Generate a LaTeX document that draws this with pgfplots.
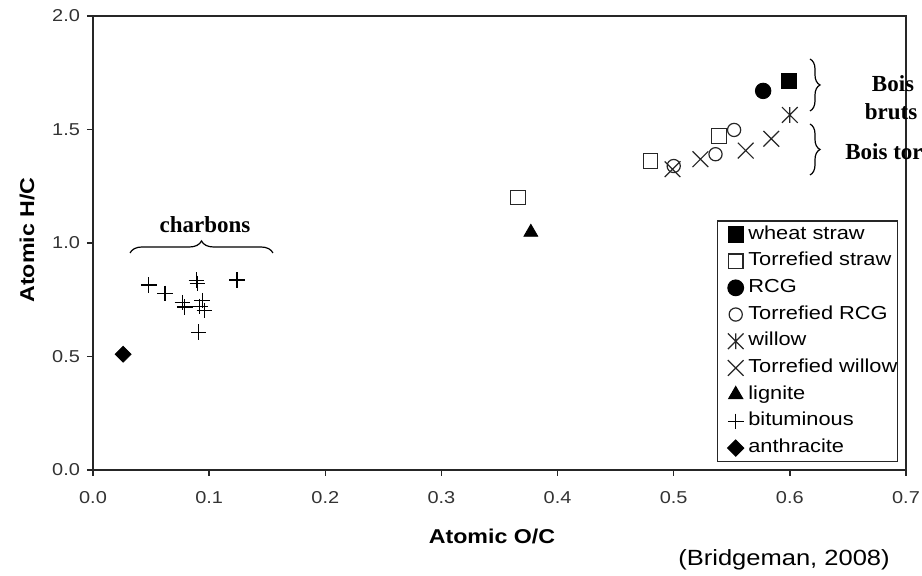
\documentclass[border=0pt]{standalone}
\usepackage{pgfplots}
\pgfplotsset{compat=1.18}
\usepackage{fontspec}
\setmainfont[FakeStretch=1.16]{Liberation Sans}
\newfontfamily\annfont{Liberation Serif}
\usetikzlibrary{decorations.pathreplacing}

\pgfdeclareplotmark{xast}{%
  \pgfpathmoveto{\pgfqpoint{-.7071\pgfplotmarksize}{-.7071\pgfplotmarksize}}%
  \pgfpathlineto{\pgfqpoint{.7071\pgfplotmarksize}{.7071\pgfplotmarksize}}%
  \pgfpathmoveto{\pgfqpoint{-.7071\pgfplotmarksize}{.7071\pgfplotmarksize}}%
  \pgfpathlineto{\pgfqpoint{.7071\pgfplotmarksize}{-.7071\pgfplotmarksize}}%
  \pgfpathmoveto{\pgfqpoint{0pt}{-.7071\pgfplotmarksize}}%
  \pgfpathlineto{\pgfqpoint{0pt}{.7071\pgfplotmarksize}}%
  \pgfusepathqstroke}

\begin{document}
\begin{tikzpicture}
\begin{axis}[
  at={(46.5pt,53pt)}, anchor=south west,
  scale only axis, width=406.5pt, height=227pt,
  xmin=0, xmax=0.7, ymin=0, ymax=2,
  xtick={0,0.1,0.2,0.3,0.4,0.5,0.6,0.7},
  ytick={0,0.5,1,1.5,2},
  tick pos=left, tick align=outside, major tick length=3pt,
  axis line style={line width=0.8pt, black!85},
  every tick/.style={black!85, line width=0.7pt},
  /pgf/number format/.cd, fixed, fixed zerofill, precision=1, assume math mode=true,
  /pgfplots/.cd,
  ticklabel style={font=\fontsize{8.6}{10}\selectfont, text=black!80},
  xticklabel style={yshift=-4pt},
  clip=false,
  legend cell align=left,
  legend image code/.code={\path (0pt,0pt) (15pt,0pt); \draw[mark repeat=2,mark phase=2,#1] plot coordinates {(0pt,0pt)(9pt,0pt)(15pt,0pt)};},
  legend style={at={(rel axis cs:1,0)}, anchor=south east, xshift=-4pt, yshift=4pt,
    draw=black!85, line width=0.6pt, inner xsep=0pt, inner ysep=0pt,
    font=\fontsize{9.4}{11}\selectfont, row sep=0pt, column sep=0pt,
    nodes={inner sep=0pt, text height=9pt, text depth=4.35pt}},
]
\addplot[only marks, mark=square*, mark size=3.75pt, black] coordinates {(0.599,1.715)};
\addlegendentry{wheat straw}
\addplot[only marks, mark=square, mark size=3.6pt, black!85, mark options={line width=0.6pt}] coordinates {(0.366,1.200)(0.480,1.361)(0.539,1.471)};
\addlegendentry{Torrefied straw}
\addplot[only marks, mark=*, mark size=3.9pt, black] coordinates {(0.577,1.670)};
\addlegendentry{RCG}
\addplot[only marks, mark=o, mark size=3.3pt, black!85, mark options={line width=0.6pt}] coordinates {(0.500,1.339)(0.536,1.391)(0.552,1.498)};
\addlegendentry{Torrefied RCG}
\addplot[only marks, mark=xast, mark size=5.55pt, black!85, mark options={line width=0.6pt}] coordinates {(0.600,1.564)};
\addlegendentry{willow}
\addplot[only marks, mark=x, mark size=5.55pt, black!85, mark options={line width=0.6pt}] coordinates {(0.499,1.325)(0.523,1.369)(0.562,1.407)(0.584,1.459)};
\addlegendentry{Torrefied willow}
\addplot[only marks, mark=triangle*, mark size=4pt, black] coordinates {(0.377,1.047)};
\addlegendentry{lignite}
\addplot[only marks, mark=+, mark size=3.9pt, black, mark options={line width=0.6pt}] coordinates {
(0.048,0.815)(0.062,0.778)(0.077,0.737)(0.079,0.718)(0.089,0.836)(0.090,0.822)
(0.094,0.746)(0.092,0.720)(0.096,0.703)(0.091,0.607)(0.124,0.837)};
\addlegendentry{bituminous}
\addplot[only marks, mark=square*, mark size=2.8pt, black, mark options={rotate=45}] coordinates {(0.026,0.510)};
\addlegendentry{anthracite}
\end{axis}
\begin{scope}[x=0.5pt,y=-0.5pt,shift={(0pt,288pt)}]
  \node[font=\bfseries\fontsize{10}{12}\selectfont] at (492,536) {Atomic O/C};
  \node[font=\bfseries\fontsize{10}{12}\selectfont, rotate=90] at (27,240) {Atomic H/C};
  \node[font=\fontsize{11}{13}\selectfont] at (784,560) {(Bridgeman, 2008)};
  \draw[line width=0.6pt, decorate, decoration={brace, amplitude=6pt}] (130,253) -- (273,253);
  \node[font=\annfont\bfseries\fontsize{11.5}{13}\selectfont] at (205,225) {charbons};
  \draw[line width=0.6pt, decorate, decoration={brace, amplitude=5pt}] (810,59) -- (810,111);
  \draw[line width=0.6pt, decorate, decoration={brace, amplitude=5pt}] (810,124) -- (810,175);
  \node[font=\annfont\bfseries\fontsize{11.5}{13}\selectfont] at (893,84) {Bois};
  \node[font=\annfont\bfseries\fontsize{11.5}{13}\selectfont] at (891,112) {bruts};
  \node[font=\annfont\bfseries\fontsize{11.5}{13}\selectfont, anchor=west, inner sep=0pt] at (845,152) {Bois torréfiés};
\end{scope}
\pgfresetboundingbox
\path[use as bounding box] (0,0) rectangle (461pt,288pt);
\end{tikzpicture}
\end{document}
